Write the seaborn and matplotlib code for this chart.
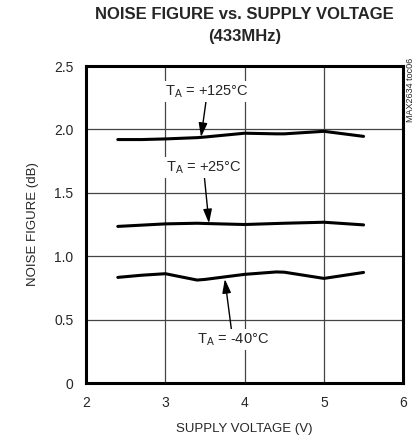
import pandas as pd
import matplotlib
matplotlib.use("Agg")
import matplotlib.pyplot as plt
import seaborn as sns

# supply voltage (V) and noise figure (dB)
voltage = [2.4, 2.7, 3.0, 3.4, 3.5, 4.0, 4.4, 4.5, 5.0, 5.5]
nf_125 = [1.92, 1.92, 1.925, 1.935, 1.94, 1.97, 1.965, 1.965, 1.985, 1.945]
nf_25 = [1.235, 1.245, 1.255, 1.26, 1.258, 1.25, 1.258, 1.26, 1.268, 1.247]
nf_m40 = [0.833, 0.85, 0.862, 0.812, 0.817, 0.857, 0.876, 0.874, 0.825, 0.872]

df = pd.concat([
    pd.DataFrame({"v": voltage, "nf": nf_125, "temp": "+125"}),
    pd.DataFrame({"v": voltage, "nf": nf_25, "temp": "+25"}),
    pd.DataFrame({"v": voltage, "nf": nf_m40, "temp": "-40"}),
])

sns.set_style("white")
plt.rcParams["font.family"] = ["Liberation Sans", "DejaVu Sans"]

fig = plt.figure(figsize=(4.2, 4.43), dpi=100)
ax = fig.add_axes([0.205, 0.1354, 0.755, 0.7156])

sns.lineplot(data=df, x="v", y="nf", hue="temp", units="temp", estimator=None,
             palette=["black"] * 3, linewidth=2.2, legend=False, ax=ax, zorder=3)

ax.set_xlim(2, 6)
ax.set_ylim(0, 2.5)
ax.set_xticks([2, 3, 4, 5, 6])
ax.set_xticklabels(["2", "3", "4", "5", "6"])
ax.set_yticks([0, 0.5, 1.0, 1.5, 2.0, 2.5])
ax.set_yticklabels(["0", "0.5", "1.0", "1.5", "2.0", "2.5"])
ax.tick_params(length=0, labelsize=10, pad=9)
ax.grid(True, color="#444444", linewidth=0.9)
for s in ax.spines.values():
    s.set_linewidth(2.2)
    s.set_color("black")

ax.set_xlabel("SUPPLY VOLTAGE (V)", fontsize=9.5, labelpad=10)
ax.set_ylabel("NOISE FIGURE (dB)", fontsize=9.5, labelpad=11)

fig.text(0.583, 0.968, "NOISE FIGURE vs. SUPPLY VOLTAGE", ha="center", va="center",
         fontsize=12, fontweight="bold")
fig.text(0.583, 0.918, "(433MHz)", ha="center", va="center",
         fontsize=12, fontweight="bold")
fig.text(0.977, 0.869, "MAX2634 toc06", rotation=90, ha="center", va="top", fontsize=6.5)

arrow = dict(arrowstyle="-|>,head_length=0.8,head_width=0.25", color="black", lw=1.0,
             shrinkA=0, shrinkB=0)
box = dict(boxstyle="square,pad=0.15", fc="white", ec="none")
ax.annotate("T$_\\mathregular{A}$ = +125°C", xy=(3.45, 1.94), xytext=(3.53, 2.3),
            ha="center", va="center", fontsize=10.5, arrowprops=arrow, bbox=box, zorder=4)
ax.annotate("T$_\\mathregular{A}$ = +25°C", xy=(3.55, 1.26), xytext=(3.48, 1.70),
            ha="center", va="center", fontsize=10.5, arrowprops=arrow, bbox=box, zorder=4)
ax.annotate("T$_\\mathregular{A}$ = -40°C", xy=(3.75, 0.82), xytext=(3.85, 0.34),
            ha="center", va="center", fontsize=10.5, arrowprops=arrow, bbox=box, zorder=4)

fig.savefig("out.png", dpi=100)
